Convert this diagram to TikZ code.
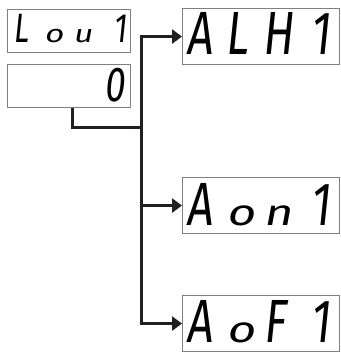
\documentclass[tikz,border=0pt]{standalone}
\usepackage{fontspec}
\usetikzlibrary{arrows.meta,calc}
\newfontfamily\segfont[FakeSlant=0.14]{Fira Sans}
\definecolor{dispgray}{HTML}{808080}
\definecolor{conncol}{HTML}{231F20}
% upper-case / digit cell, left or right aligned
\newcommand\dcl[2]{\makebox[#1][l]{\scalebox{0.74}[1]{#2}}}
\newcommand\dcr[2]{\makebox[#1][r]{\scalebox{0.74}[1]{#2}}}
% lower-case cell (half-height seven-segment letters)
\newcommand\dlc[2]{\makebox[#1][l]{\scalebox{0.8}[0.6]{#2}}}
\tikzset{
  disp/.style={draw=dispgray, line width=1.1pt, fill=white, inner sep=0pt, anchor=north west},
  conn/.style={draw=conncol, line width=3pt, line join=miter},
  arr/.style={conn, -{Triangle[length=10pt,width=14pt]}},
  seg/.style={inner sep=0pt, anchor=base west, text=black, text depth=0pt},
}
\begin{document}
\begin{tikzpicture}[x=1pt,y=-1pt]
\useasboundingbox (0,0) rectangle (340,352);
% displays
\node[disp, minimum width=123pt, minimum height=43pt] (lou) at (7,9) {};
\node[disp, minimum width=123pt, minimum height=43pt] (zero) at (7,64) {};
\node[disp, minimum width=157pt, minimum height=56pt] (alh) at (182,8) {};
\node[disp, minimum width=157pt, minimum height=56pt] (aon) at (182,177) {};
\node[disp, minimum width=157pt, minimum height=56pt] (aof) at (182,295) {};
% texts
\node[seg, font=\segfont\fontsize{41}{41}\selectfont] (loutxt) at (13,43)
  {\dcl{31pt}{L}\dlc{29pt}{o}\dlc{28pt}{u}\dcr{25pt}{1}};
\node[seg, anchor=base east, font=\segfont\fontsize{49}{49}\selectfont] (zerotxt) at (125,102) {\dcr{22pt}{0}};
\node[seg, font=\segfont\fontsize{61}{61}\selectfont] (alhtxt) at (186,55)
  {\dcl{39pt}{A}\dcl{37pt}{L}\dcl{37pt}{H}\dcr{31pt}{1}};
\node[seg, font=\segfont\fontsize{61}{61}\selectfont] (aontxt) at (186,225)
  {\dcl{40pt}{A}\dlc{37pt}{o}\dlc{36pt}{n}\dcr{31pt}{1}};
\node[seg, font=\segfont\fontsize{61}{61}\selectfont] (aoftxt) at (186,342)
  {\dcl{40pt}{A}\dlc{37pt}{o}\dcl{36pt}{F}\dcr{31pt}{1}};
% connectors
\coordinate (j) at (141,128);
\draw[conn] ([xshift=3.5pt]zero.south) |- (j);
\draw[arr] (j) |- (alh.west);
\draw[arr] (j) |- (aon.west);
\draw[arr] (j) |- (aof.west);
\end{tikzpicture}
\end{document}
